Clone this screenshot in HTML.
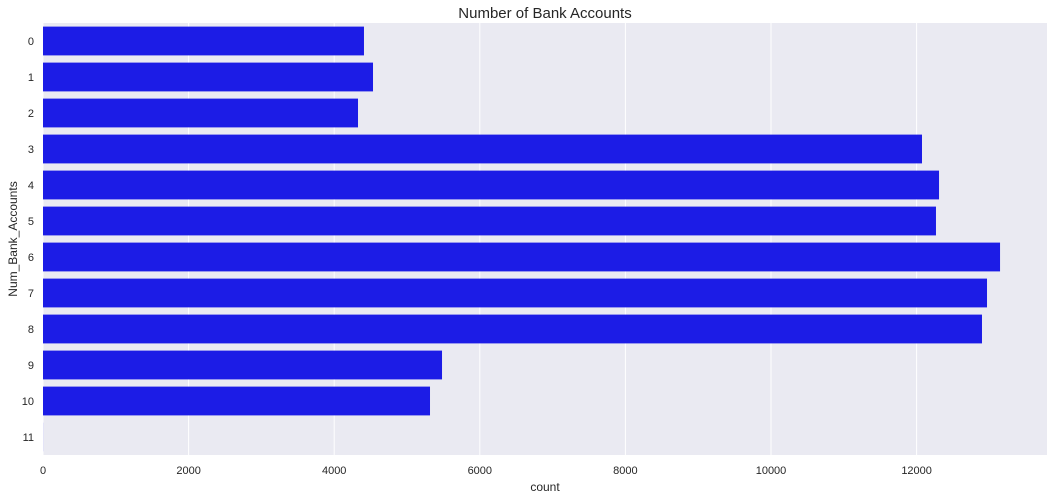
<!DOCTYPE html>
<html><head><meta charset="utf-8"><style>
body{margin:0;background:#fff;font-family:"Liberation Sans",sans-serif}
svg{display:block}
</style></head><body>
<svg id="c" width="1054" height="499"></svg>
<script>
const categories=["0","1","2","3","4","5","6","7","8","9","10","11"];
const counts=[4409,4533,4327,12074,12308,12266,13146,12967,12898,5481,5316,1];
const xTicks=[0,2000,4000,6000,8000,10000,12000];
const L=43,R=1047,T=23,B=455,xMax=13791;
const xs=v=>L+v*(R-L)/xMax;
const band=(B-T)/categories.length;
const ys=i=>T+band*i+band/2;
const NS="http://www.w3.org/2000/svg";
const svg=document.getElementById('c');
function mk(t,a,p){const e=document.createElementNS(NS,t);for(const k in a)e.setAttribute(k,a[k]);(p||svg).appendChild(e);return e;}
const bg=mk('rect',{x:L,y:T,width:R-L,height:B-T,fill:'#eaeaf2'});


xTicks.forEach(v=>{
 const g=mk('line',{x1:xs(v),x2:xs(v),y1:T,y2:B,stroke:'#fff','stroke-width':1});
 
 
 const t=mk('text',{x:xs(v),y:B+19,'text-anchor':'middle','font-size':11,fill:'#262626'});
 t.textContent=v;
 
 
});
categories.forEach((c,i)=>{
 const h=band*0.8;
 const r=mk('rect',{x:L,y:ys(i)-h/2,width:Math.max(0,xs(counts[i])-L),height:h,fill:'#1c1ce6'});
 
 
 const t=mk('text',{x:L-9,y:ys(i)+4,'text-anchor':'end','font-size':11,fill:'#262626'});
 t.textContent=c;
 
 
});
const ti=mk('text',{x:(L+R)/2,y:18,'text-anchor':'middle','font-size':15,fill:'#262626'});
ti.textContent='Number of Bank Accounts';


const xl=mk('text',{x:(L+R)/2,y:491,'text-anchor':'middle','font-size':12,fill:'#262626'});
xl.textContent='count';


const yl=mk('text',{x:17,y:(T+B)/2,'text-anchor':'middle','font-size':12,fill:'#262626',transform:'rotate(-90 17 '+((T+B)/2)+')'});
yl.textContent='Num_Bank_Accounts';


</script>
</body></html>
